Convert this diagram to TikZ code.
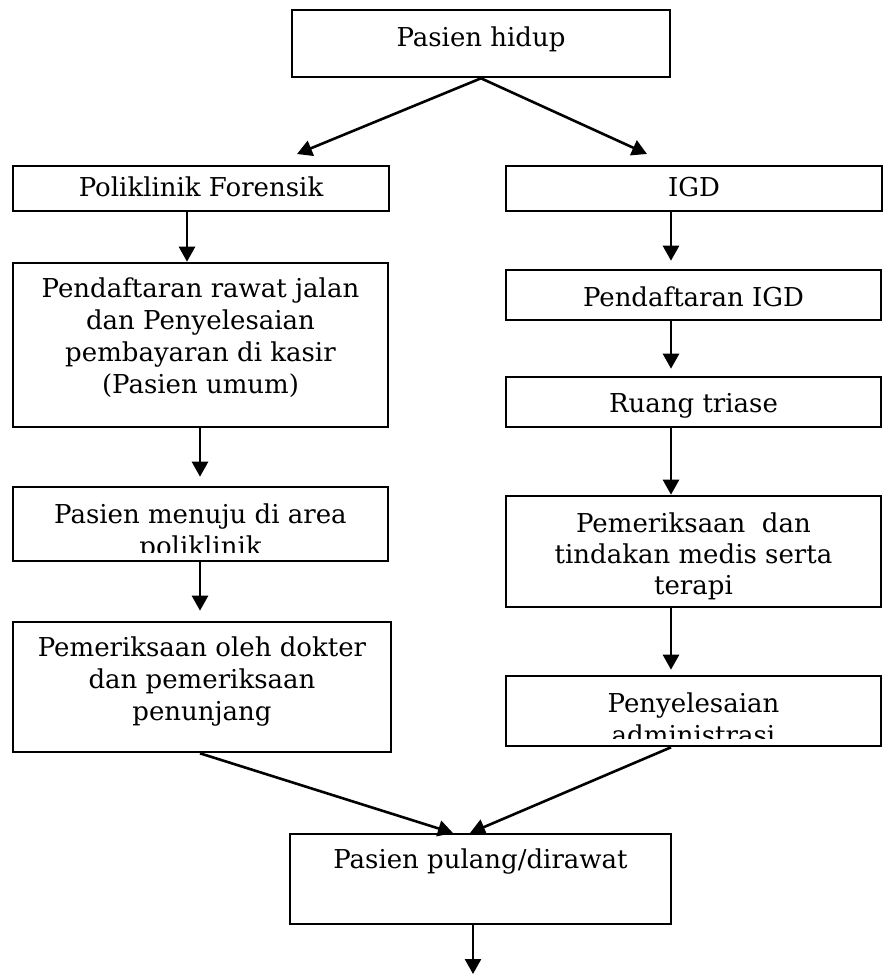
\documentclass[tikz,border=0pt]{standalone}
\usepackage{fontspec}
\setmainfont{DejaVu Serif}
\usetikzlibrary{arrows.meta}
\begin{document}
\begin{tikzpicture}[x=1pt,y=-1pt,
  box/.style={draw=black,line width=2.6pt,inner sep=0pt,fill=none},
  txt/.style={inner sep=0pt,anchor=base,align=center,
    font=\fontsize{26}{32}\selectfont},
  arr/.style={line width=2.6pt,-{Triangle[length=15pt,width=16pt]}}]
\useasboundingbox (0,0) rectangle (884,975);
\fill[white] (0,0) rectangle (884,975);

% boxes
\node[box,minimum width=378pt,minimum height=67pt] (top) at (481,43.5) {};
\node[box,minimum width=376pt,minimum height=45pt] (pf)  at (201,188.5) {};
\node[box,minimum width=376pt,minimum height=45pt] (igd) at (694,188.5) {};
\node[box,minimum width=375pt,minimum height=164pt] (pr) at (200.5,345) {};
\node[box,minimum width=375pt,minimum height=50pt] (pi)  at (693.5,295) {};
\node[box,minimum width=375pt,minimum height=50pt] (rt)  at (693.5,402) {};
\node[box,minimum width=375pt,minimum height=74pt] (pm)  at (200.5,524) {};
\node[box,minimum width=375pt,minimum height=111pt] (pt) at (693.5,551.5) {};
\node[box,minimum width=378pt,minimum height=130pt] (pd) at (202,687) {};
\node[box,minimum width=375pt,minimum height=70pt] (pa)  at (693.5,711) {};
\node[box,minimum width=381pt,minimum height=90pt] (pp)  at (480.5,879) {};

% labels (base anchor sits on the last line)
\node[txt] (ttop) at (481,46) {Pasien hidup};
\node[txt] (tpf)  at (201,196) {Poliklinik Forensik};
\node[txt] (tigd) at (694,196) {IGD};
\node[txt] (tpr) at (200.5,393) {Pendaftaran rawat jalan\\dan Penyelesaian\\pembayaran di kasir\\(Pasien umum)};
\node[txt] (tpi) at (693.5,306) {Pendaftaran IGD};
\node[txt] (trt) at (693.5,412) {Ruang triase};
\begin{scope}
  \clip (13,488) rectangle (388,552);
  \node[txt] (tpm) at (200.5,555) {Pasien menuju di area\\poliklinik};
\end{scope}
\node[txt,font=\fontsize{26}{31}\selectfont] (tpt) at (693.5,594) {Pemeriksaan~ dan\\tindakan medis serta\\terapi};
\node[txt] (tpd) at (202,720) {Pemeriksaan oleh dokter\\dan pemeriksaan\\penunjang};
\begin{scope}
  \clip (507,677) rectangle (880,738);
  \node[txt] (tpa) at (693.5,744) {Penyelesaian\\administrasi};
\end{scope}
\node[txt] (tpp) at (480.5,868) {Pasien pulang/dirawat};

% connector end points
\coordinate (pfin)  at (297,154);
\coordinate (igdin) at (647,154);
\coordinate (colA)  at (187,0);
\coordinate (colB)  at (200,0);
\coordinate (colC)  at (671,0);
\coordinate (ppinL) at (453,833);
\coordinate (ppinR) at (470,833);
\coordinate (exit)  at (473,974);

% connectors
\draw[arr] (top.south) -- (pfin);
\draw[arr] (top.south) -- (igdin);
\draw[arr] (pf.south -| colA) -- (pr.north -| colA);
\draw[arr,shorten >=9pt] (pr.south -| colB) -- (pm.north -| colB);
\draw[arr,shorten >=10pt] (pm.south -| colB) -- (pd.north -| colB);
\draw[arr,shorten >=8pt] (igd.south -| colC) -- (pi.north -| colC);
\draw[arr,shorten >=7pt] (pi.south -| colC) -- (rt.north -| colC);
\draw[arr] (rt.south -| colC) -- (pt.north -| colC);
\draw[arr,shorten >=5pt] (pt.south -| colC) -- (pa.north -| colC);
\draw[arr] (pd.south -| colB) -- (ppinL);
\draw[arr] (pa.south -| colC) -- (ppinR);
\draw[arr] (pp.south -| exit) -- (exit);
\end{tikzpicture}
\end{document}
